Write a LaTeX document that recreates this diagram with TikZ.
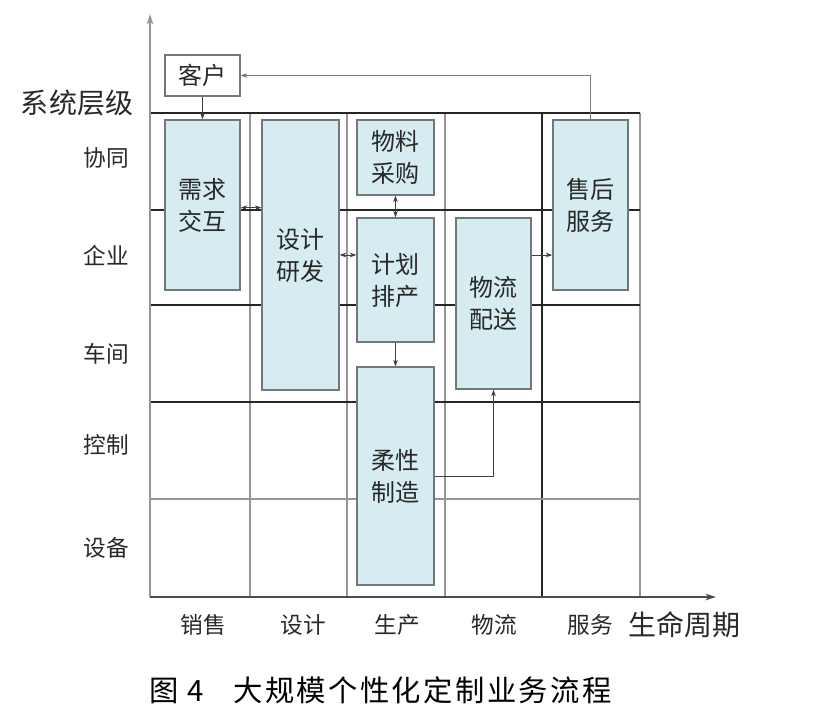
\documentclass[tikz,border=0pt]{standalone}
\usepackage{fontspec}
\setmainfont{Noto Sans CJK SC}
\usetikzlibrary{arrows.meta}
\definecolor{boxfill}{RGB}{214,236,241}
\definecolor{boxedge}{RGB}{110,120,125}
\definecolor{gridgray}{RGB}{150,150,150}
\definecolor{txt}{RGB}{40,40,40}

\begin{document}
\begin{tikzpicture}[
  x=0.75pt,y=-0.75pt,
  proc/.style={draw=boxedge,line width=0.9pt,fill=boxfill,align=center,
    font=\fontsize{18}{24}\selectfont,text=txt,inner sep=0pt},
  plain/.style={proc,fill=white},
  level/.style={font=\fontsize{17}{20}\selectfont,text=txt,anchor=east},
  stage/.style={font=\fontsize{17}{20}\selectfont,text=txt},
  axislab/.style={font=\fontsize{21}{24}\selectfont,text=txt},
  blackline/.style={draw=black!85,line width=0.8pt},
  grayline/.style={draw=gridgray,line width=0.8pt},
  arr/.style={draw=black!75,line width=0.6pt,-{Stealth[length=5pt,width=3.5pt]}},
  darr/.style={draw=black!75,line width=0.6pt,{Stealth[length=5pt,width=3.5pt]}-{Stealth[length=5pt,width=3.5pt]}},
]
\useasboundingbox (0,0) rectangle (837,723);
% grid
\foreach \x in {250,347,445,640}
  \draw[grayline] (\x,113)--(\x,597);
\draw[blackline] (542,113)--(542,597);
\foreach \y in {113,210,305,402}
  \draw[blackline] (150,\y)--(640,\y);
\draw[grayline] (150,499)--(640,499);
% axes
\draw[grayline,-{Stealth[length=8pt,width=5pt]}] (150,597)--(150,14);
\draw[draw=black!70,line width=0.9pt,-{Stealth[length=8pt,width=5pt]}] (150,597)--(716,597);
\node[axislab] at (77,103) {系统层级};
\node[axislab] at (684,625) {生命周期};
% levels and stages
\node[level] (xietong) at (134,158) {协同};
\node[level] (qiye)    at (134,255) {企业};
\node[level] (chejian) at (134,354) {车间};
\node[level] (kongzhi) at (134,445) {控制};
\node[level] (shebei)  at (134,548) {设备};
\foreach \x/\lab in {203/销售,303/设计,397/生产,494/物流,590/服务}
  \node[stage] at (\x,625) {\lab};
% process boxes
\node[plain,minimum width=56.25pt,minimum height=30.75pt] (kehu) at (202.5,75.5) {客户};
\node[proc,minimum width=56.25pt,minimum height=127.5pt] (xuqiu) at (202.5,205) {需求\\交互};
\node[proc,minimum width=57.75pt,minimum height=202.5pt] (sheji) at (300.5,255) {设计\\研发};
\node[proc,minimum width=57.75pt,minimum height=56.25pt] (wuliao) at (395.5,157.5) {物料\\采购};
\node[proc,minimum width=57.75pt,minimum height=93pt] (jihua) at (395.5,280) {计划\\排产};
\node[proc,minimum width=57.75pt,minimum height=163.5pt] (rouxing) at (395.5,476) {柔性\\制造};
\node[proc,minimum width=56.25pt,minimum height=128.25pt] (wuliu) at (493.5,303.5) {物流\\配送};
\node[proc,minimum width=56.25pt,minimum height=127.5pt] (shouhou) at (590.5,205) {售后\\服务};
% flows
\draw[arr] (kehu.south)--(xuqiu.north);
\draw[darr] ([yshift=-2pt]xuqiu.east)--([yshift=-2pt]xuqiu.east -| sheji.west);
\draw[darr] (sheji.east |- qiye)--(jihua.west |- qiye);
\draw[darr] (wuliao.south)--(jihua.north);
\draw[arr] (jihua.south)--(rouxing.north);
\draw[arr] (rouxing.east) -| (wuliu.south);
\draw[arr] (wuliu.east |- qiye)--(shouhou.west |- qiye);
\draw[arr,draw=gridgray!80!black] (shouhou.north) |- (kehu.east);
% caption
\node[font=\fontsize{22}{26}\selectfont\addfontfeatures{LetterSpace=8},anchor=west] (caption) at (145,690)
  {图 4\hspace{1em}大规模个性化定制业务流程};
\end{tikzpicture}
\end{document}
